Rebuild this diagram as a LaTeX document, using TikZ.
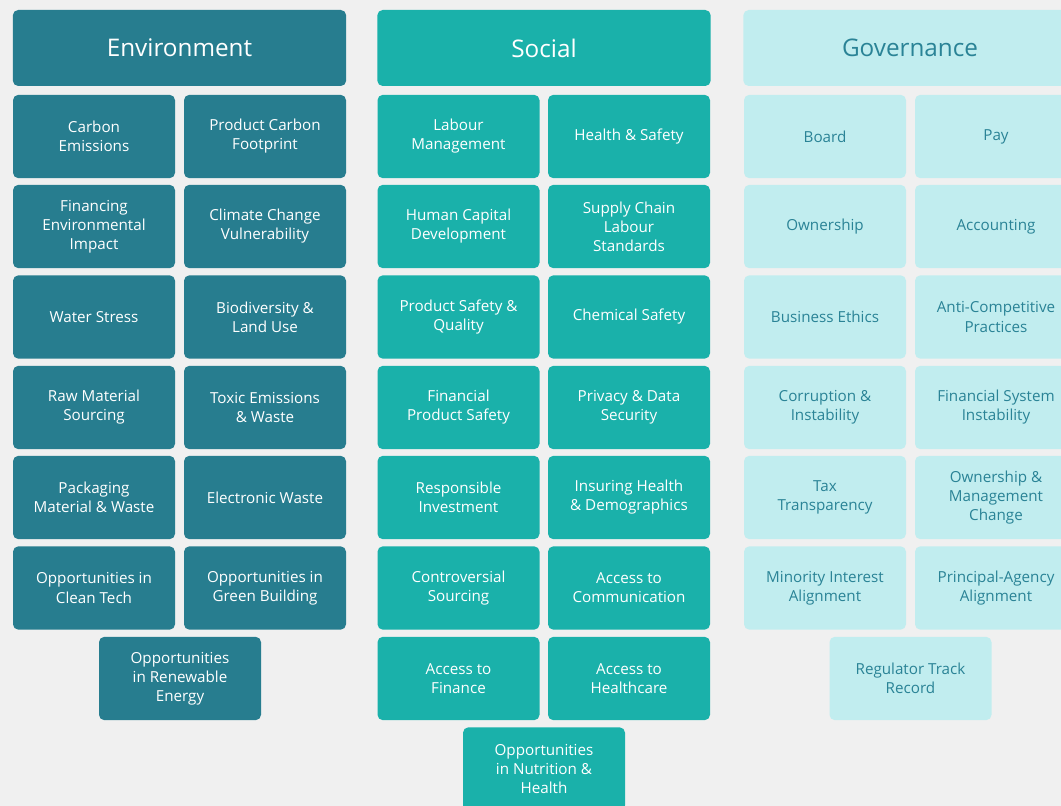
\documentclass[tikz,border=0pt]{standalone}
\usepackage{fontspec}
\setmainfont{Open Sans}
\definecolor{fond}{RGB}{240, 240, 240}
\definecolor{envcol}{RGB}{39, 125, 143}
\definecolor{soccol}{RGB}{26, 177, 170}
\definecolor{govcol}{RGB}{193, 237, 239}
\definecolor{govtxt}{RGB}{42, 131, 150}

\tikzset{
  tile/.style={rectangle, rounded corners=4pt, inner sep=0pt, align=center,
    minimum width=121.5pt, minimum height=62.5pt, font=\fontsize{11.4}{14.3}\selectfont},
  head/.style={tile, minimum width=250pt, minimum height=57pt, font=\fontsize{18.2}{20}\selectfont},
  envbox/.style={fill=envcol, text=white},
  socbox/.style={fill=soccol, text=white},
  govbox/.style={fill=govcol, text=govtxt}
}

\begin{document}
\begin{tikzpicture}[x=0.75pt, y=-0.75pt]
  \fill[fond] (0, 0) rectangle (1061, 806);
  \useasboundingbox (0, 0) rectangle (1061, 806);
  \clip (0, 0) rectangle (1061, 806);

  % headers
  \node[head, envbox] (env) at (179.5, 48) {Environment};
  \node[head, socbox] (soc) at (544, 48) {Social};
  \node[head, govbox] (gov) at (910, 48) {Governance};

  % environment
  \node[tile, envbox] (env11) at (94, 136.5) {Carbon\\Emissions};
  \node[tile, envbox] (env12) at (265, 136.5) {Product Carbon\\Footprint};
  \node[tile, envbox] (env21) at (94, 226.5) {Financing\\Environmental\\Impact};
  \node[tile, envbox] (env22) at (265, 226.5) {Climate Change\\Vulnerability};
  \node[tile, envbox] (env31) at (94, 317) {Water Stress};
  \node[tile, envbox] (env32) at (265, 317) {Biodiversity \&\\Land Use};
  \node[tile, envbox] (env41) at (94, 407.5) {Raw Material\\Sourcing};
  \node[tile, envbox] (env42) at (265, 407.5) {Toxic Emissions\\\& Waste};
  \node[tile, envbox] (env51) at (94, 497.5) {Packaging\\Material \& Waste};
  \node[tile, envbox] (env52) at (265, 497.5) {Electronic Waste};
  \node[tile, envbox] (env61) at (94, 588) {Opportunities in\\Clean Tech};
  \node[tile, envbox] (env62) at (265, 588) {Opportunities in\\Green Building};
  \node[tile, envbox] (env7) at (180, 678.5) {Opportunities\\in Renewable\\Energy};

  % social
  \node[tile, socbox] (soc11) at (458.5, 136.5) {Labour\\Management};
  \node[tile, socbox] (soc12) at (629, 136.5) {Health \& Safety};
  \node[tile, socbox] (soc21) at (458.5, 226.5) {Human Capital\\Development};
  \node[tile, socbox] (soc22) at (629, 226.5) {Supply Chain\\Labour\\Standards};
  \node[tile, socbox] (soc31) at (458.5, 317) {Product Safety \&\\Quality};
  \node[tile, socbox] (soc32) at (629, 317) {Chemical Safety};
  \node[tile, socbox] (soc41) at (458.5, 407.5) {Financial\\Product Safety};
  \node[tile, socbox] (soc42) at (629, 407.5) {Privacy \& Data\\Security};
  \node[tile, socbox] (soc51) at (458.5, 497.5) {Responsible\\Investment};
  \node[tile, socbox] (soc52) at (629, 497.5) {Insuring Health\\\& Demographics};
  \node[tile, socbox] (soc61) at (458.5, 588) {Controversial\\Sourcing};
  \node[tile, socbox] (soc62) at (629, 588) {Access to\\Communication};
  \node[tile, socbox] (soc71) at (458.5, 678.5) {Access to\\Finance};
  \node[tile, socbox] (soc72) at (629, 678.5) {Access to\\Healthcare};
  \node[tile, socbox] (soc8) at (544, 769) {Opportunities\\in Nutrition \&\\Health};

  % governance
  \node[tile, govbox] (gov11) at (825, 136.5) {Board};
  \node[tile, govbox] (gov12) at (996, 136.5) {Pay};
  \node[tile, govbox] (gov21) at (825, 226.5) {Ownership};
  \node[tile, govbox] (gov22) at (996, 226.5) {Accounting};
  \node[tile, govbox] (gov31) at (825, 317) {Business Ethics};
  \node[tile, govbox] (gov32) at (996, 317) {Anti-Competitive\\Practices};
  \node[tile, govbox] (gov41) at (825, 407.5) {Corruption \&\\Instability};
  \node[tile, govbox] (gov42) at (996, 407.5) {Financial System\\Instability};
  \node[tile, govbox] (gov51) at (825, 497.5) {Tax\\Transparency};
  \node[tile, govbox] (gov52) at (996, 497.5) {Ownership \&\\Management\\Change};
  \node[tile, govbox] (gov61) at (825, 588) {Minority Interest\\Alignment};
  \node[tile, govbox] (gov62) at (996, 588) {Principal-Agency\\Alignment};
  \node[tile, govbox] (gov7) at (910.5, 678.5) {Regulator Track\\Record};
\end{tikzpicture}
\end{document}
